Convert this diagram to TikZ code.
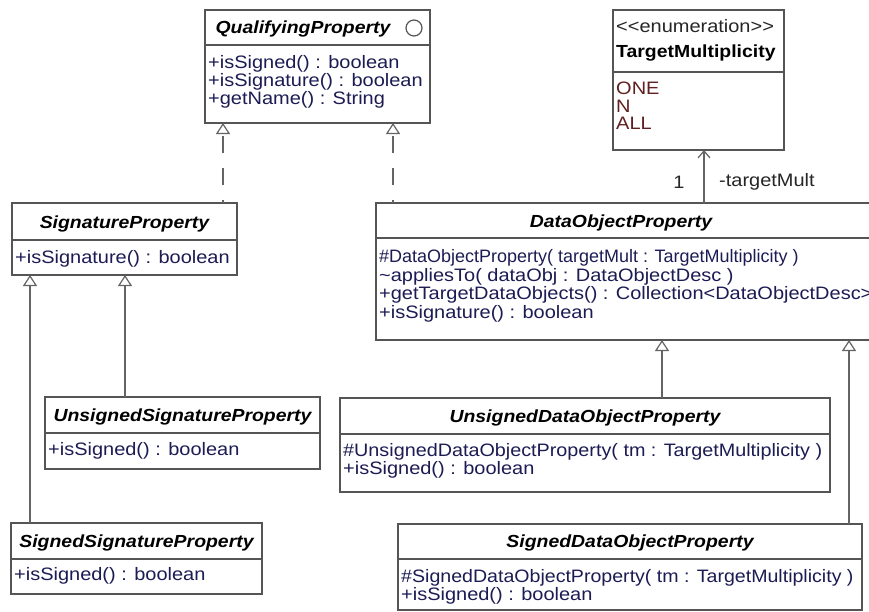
\documentclass[tikz,border=0pt]{standalone}
\usepackage{graphicx}
\usepackage{fontspec}
\setmainfont{Liberation Sans}[FakeStretch=1.11]
\usetikzlibrary{arrows.meta}
\definecolor{methc}{RGB}{28,28,84}
\definecolor{enumc}{RGB}{96,32,32}
\definecolor{bordc}{RGB}{85,85,85}
\definecolor{linec}{RGB}{100,100,100}
\begin{document}
\begin{tikzpicture}[x=1pt,y=-1pt,
  cls/.style={draw=bordc, line width=1.2pt, fill=white, inner sep=0pt, outer sep=0pt, anchor=north west},
  sepl/.style={draw=bordc, line width=1.2pt},
  ttl/.style={font=\fontsize{17.5}{17.5}\selectfont\bfseries\itshape, inner sep=0pt, anchor=base},
  ttlup/.style={font=\fontsize{17.5}{17.5}\selectfont\bfseries, inner sep=0pt, anchor=base west},
  mth/.style={font=\fontsize{18}{18}\selectfont, text=methc, inner sep=0pt, anchor=base west},
  lit/.style={font=\fontsize{18}{18}\selectfont, text=enumc, inner sep=0pt, anchor=base west},
  stereo/.style={font=\fontsize{18}{18}\selectfont, text=black!85, inner sep=0pt, anchor=base west},
  lbl/.style={font=\fontsize{18}{18}\selectfont, text=black!85, inner sep=0pt},
  gen/.style={draw=linec, line width=1.2pt, -{Triangle[open, length=11pt, width=14pt, fill=white]}},
  real/.style={gen, dash pattern=on 17pt off 15pt, dash phase=14pt},
  assoc/.style={draw=linec, line width=1.2pt, -{Straight Barb[length=7pt, width=12pt]}}
]
\useasboundingbox (0,0) rectangle (869,611);
\clip (0,0) rectangle (869,611);
\fill[white] (0,0) rectangle (869,611);

% connector x positions
\coordinate (x223) at (223,0);
\coordinate (x393) at (393,0);
\coordinate (x30) at (30,0);
\coordinate (x125) at (125,0);
\coordinate (x662) at (662,0);
\coordinate (x849) at (849,0);
\coordinate (x704) at (704,0);

% QualifyingProperty
\node[cls, minimum width=225pt, minimum height=113pt] (qp) at (205,10) {};
\draw[sepl] (205,45) -- (430,45);
\node[ttl] (qpT) at (303,33.5) {QualifyingProperty};
\node[circle, draw=bordc, line width=1.2pt, minimum size=16pt, inner sep=0pt] (qpC) at (414,28) {};
\node[mth] (qpM1) at (208,68.5) {+isSigned() : boolean};
\node[mth] (qpM2) at (208,86.5) {+isSignature() : boolean};
\node[mth] (qpM3) at (208,104) {+getName() : String};

% TargetMultiplicity
\node[cls, minimum width=171pt, minimum height=140pt] (tm) at (613,10) {};
\draw[sepl] (613,72) -- (784,72);
\node[stereo] (tmS) at (616,32) {<\kern0pt<enumeration>\kern0pt>};
\node[ttlup] (tmT) at (616,57.5) {TargetMultiplicity};
\node[lit] (tmL1) at (616,94.5) {ONE};
\node[lit] (tmL2) at (616,112) {N};
\node[lit] (tmL3) at (616,129.5) {ALL};

% SignatureProperty
\node[cls, minimum width=225pt, minimum height=72pt] (sp) at (12,203) {};
\draw[sepl] (12,240) -- (237,240);
\node[ttl] (spT) at (124.5,228.5) {SignatureProperty};
\node[mth] (spM1) at (15,263.5) {+isSignature() : boolean};

% DataObjectProperty
\node[cls, minimum width=499pt, minimum height=137pt] (dop) at (376,203) {};
\draw[sepl] (376,238) -- (875,238);
\node[ttl] (dopT) at (621,227.5) {DataObjectProperty};
\node[mth] (dopM1) at (379,262.5) {\scalebox{0.9}[1]{\#DataObjectProperty( targetMult : TargetMultiplicity )}};
\node[mth] (dopM2) at (379,281) {\textasciitilde appliesTo( dataObj : DataObjectDesc )};
\node[mth] (dopM3) at (379,299.5) {+getTargetDataObjects() : Collection<DataObjectDesc>};
\node[mth] (dopM4) at (379,318) {+isSignature() : boolean};

% UnsignedSignatureProperty
\node[cls, minimum width=275pt, minimum height=72pt] (usp) at (45,397) {};
\draw[sepl] (45,433) -- (320,433);
\node[ttl] (uspT) at (182.5,421) {UnsignedSignatureProperty};
\node[mth] (uspM1) at (48,455.5) {+isSigned() : boolean};

% SignedSignatureProperty
\node[cls, minimum width=251pt, minimum height=71pt] (ssp) at (11,523) {};
\draw[sepl] (11,559) -- (262,559);
\node[ttl] (sspT) at (136.5,547.5) {SignedSignatureProperty};
\node[mth] (sspM1) at (14,580) {+isSigned() : boolean};

% UnsignedDataObjectProperty
\node[cls, minimum width=490pt, minimum height=94pt] (udop) at (340,398) {};
\draw[sepl] (340,434) -- (830,434);
\node[ttl] (udopT) at (585,422) {UnsignedDataObjectProperty};
\node[mth] (udopM1) at (343,456) {\scalebox{0.99}[1]{\#UnsignedDataObjectProperty( tm : TargetMultiplicity )}};
\node[mth] (udopM2) at (343,474.5) {+isSigned() : boolean};

% SignedDataObjectProperty
\node[cls, minimum width=464pt, minimum height=86pt] (sdop) at (398,524) {};
\draw[sepl] (398,559) -- (862,559);
\node[ttl] (sdopT) at (630,547.5) {SignedDataObjectProperty};
\node[mth] (sdopM1) at (401,582) {\scalebox{0.98}[1]{\#SignedDataObjectProperty( tm : TargetMultiplicity )}};
\node[mth] (sdopM2) at (401,600) {+isSigned() : boolean};

% connectors
\draw[real] (sp.north -| x223) -- (qp.south -| x223);
\draw[real] (dop.north -| x393) -- (qp.south -| x393);
\draw[gen] (ssp.north -| x30) -- (sp.south -| x30);
\draw[gen] (usp.north -| x125) -- (sp.south -| x125);
\draw[gen] (udop.north -| x662) -- (dop.south -| x662);
\draw[gen] (sdop.north -| x849) -- (dop.south -| x849);
\draw[assoc] (dop.north -| x704) -- (tm.south -| x704);
\node[lbl] (m1) at (679,182) {1};
\node[lbl, anchor=west] (m2) at (719,182) {-targetMult};
\end{tikzpicture}
\end{document}
